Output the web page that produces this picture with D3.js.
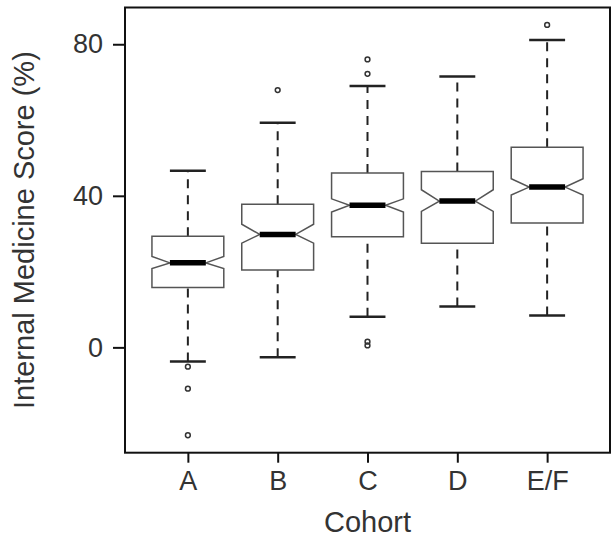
<!DOCTYPE html>
<html>
<head>
<meta charset="utf-8">
<script src="https://cdn.jsdelivr.net/npm/d3@7"></script>
<style>
  body { margin: 0; background: #fff; }
  text { font-family: "Liberation Sans", Arial, sans-serif; fill: #333; }
</style>
</head>
<body>
<div class="wrap-chart"></div>
<script>
var
  width = 611,
  height = 539,
  frame = { left: 125, right: 610, top: 7.5, bottom: 452.7 },
  tickFont = 27,
  titleFont = 29;

// values
var cohorts = ["A", "B", "C", "D", "E/F"];
var whiskerLow  = [-3.7, -2.6,  8.1, 10.8,  8.4];
var q1          = [15.8, 20.4, 29.2, 27.5, 32.8];
var medians     = [22.3, 29.8, 37.5, 38.6, 42.3];
var q3          = [29.3, 37.8, 46.0, 46.4, 52.8];
var whiskerHigh = [46.6, 59.3, 69.0, 71.5, 81.1];
var notchLow    = [20.8, 27.5, 35.7, 35.9, 40.2];
var notchHigh   = [24.0, 32.5, 39.2, 41.6, 44.5];
var outliers    = [[-5.1, -10.9, -23.2], [67.9], [76.0, 72.2, 1.5, 0.5], [], [85.1]];
var yTicks = [0, 40, 80];

var svg = d3.select(".wrap-chart")
  .append("svg")
  .attr("width", width)
  .attr("height", height);

var x = d3.scalePoint()
  .domain(cohorts)
  .range([frame.left, frame.right])
  .padding(0.7);

var y = d3.scaleLinear()
  .domain([-27.8, 89.7])
  .range([frame.bottom, frame.top]);

var boxW = x.step() * 0.8;

var boxes = svg.selectAll(".box")
  .data(cohorts)
  .enter()
  .append("g")
  .attr("class", "box");

// whiskers, dashed
boxes.each(function (c, i) {
  var g = d3.select(this), cx = x(c);
  [[whiskerLow[i], q1[i]], [q3[i], whiskerHigh[i]]].forEach(function (seg) {
    g.append("line")
      .attr("x1", cx).attr("x2", cx)
      .attr("y1", y(seg[0])).attr("y2", y(seg[1]))
      .attr("stroke", "#222")
      .attr("stroke-width", 2)
      .attr("stroke-dasharray", "9,7");
  });
  [whiskerLow[i], whiskerHigh[i]].forEach(function (v) {
    g.append("line")
      .attr("x1", cx - boxW / 4).attr("x2", cx + boxW / 4)
      .attr("y1", y(v)).attr("y2", y(v))
      .attr("stroke", "#222")
      .attr("stroke-width", 2.5);
  });
});

// notched box
boxes.append("path")
  .attr("fill", "#fff")
  .attr("stroke", "#555")
  .attr("stroke-width", 1.5)
  .attr("d", function (c, i) {
    var cx = x(c), l = cx - boxW / 2, r = cx + boxW / 2;
    var pts = [
      [l, y(q1[i])], [l, y(notchLow[i])], [cx - boxW / 4, y(medians[i])],
      [l, y(notchHigh[i])], [l, y(q3[i])], [r, y(q3[i])],
      [r, y(notchHigh[i])], [cx + boxW / 4, y(medians[i])], [r, y(notchLow[i])],
      [r, y(q1[i])]
    ];
    return d3.line()(pts) + "Z";
  });

// median
boxes.append("line")
  .attr("x1", function (c) { return x(c) - boxW / 4; })
  .attr("x2", function (c) { return x(c) + boxW / 4; })
  .attr("y1", function (c, i) { return y(medians[i]); })
  .attr("y2", function (c, i) { return y(medians[i]); })
  .attr("stroke", "#000")
  .attr("stroke-width", 5.5);

// outliers
boxes.each(function (c, i) {
  d3.select(this).selectAll("circle")
    .data(outliers[i])
    .enter()
    .append("circle")
    .attr("cx", x(c))
    .attr("cy", function (d) { return y(d); })
    .attr("r", 2.4)
    .attr("fill", "none")
    .attr("stroke", "#333")
    .attr("stroke-width", 1.5);
});

// frame
svg.append("rect")
  .attr("x", frame.left)
  .attr("y", frame.top)
  .attr("width", frame.right - frame.left)
  .attr("height", frame.bottom - frame.top)
  .attr("fill", "none")
  .attr("stroke", "#111")
  .attr("stroke-width", 2);

// axes
var yAxis = svg.append("g")
  .attr("transform", "translate(" + frame.left + ",0)")
  .call(d3.axisLeft(y).tickValues(yTicks).tickSize(12).tickPadding(10));

var xAxis = svg.append("g")
  .attr("transform", "translate(0," + frame.bottom + ")")
  .call(d3.axisBottom(x).tickSize(10).tickPadding(8));

[yAxis, xAxis].forEach(function (a) {
  a.select(".domain").remove();
  a.selectAll(".tick line").attr("stroke", "#111").attr("stroke-width", 2);
  a.selectAll(".tick text")
    .style("font-size", tickFont + "px")
    .attr("fill", "#333");
});

// titles
svg.append("text")
  .attr("text-anchor", "middle")
  .attr("x", (frame.left + frame.right) / 2)
  .attr("y", 532)
  .style("font-size", titleFont + "px")
  .text("Cohort");

svg.append("text")
  .attr("text-anchor", "middle")
  .attr("transform", "translate(34," + (frame.top + frame.bottom) / 2 + ") rotate(-90)")
  .style("font-size", titleFont + "px")
  .text("Internal Medicine Score (%)");
</script>
</body>
</html>
